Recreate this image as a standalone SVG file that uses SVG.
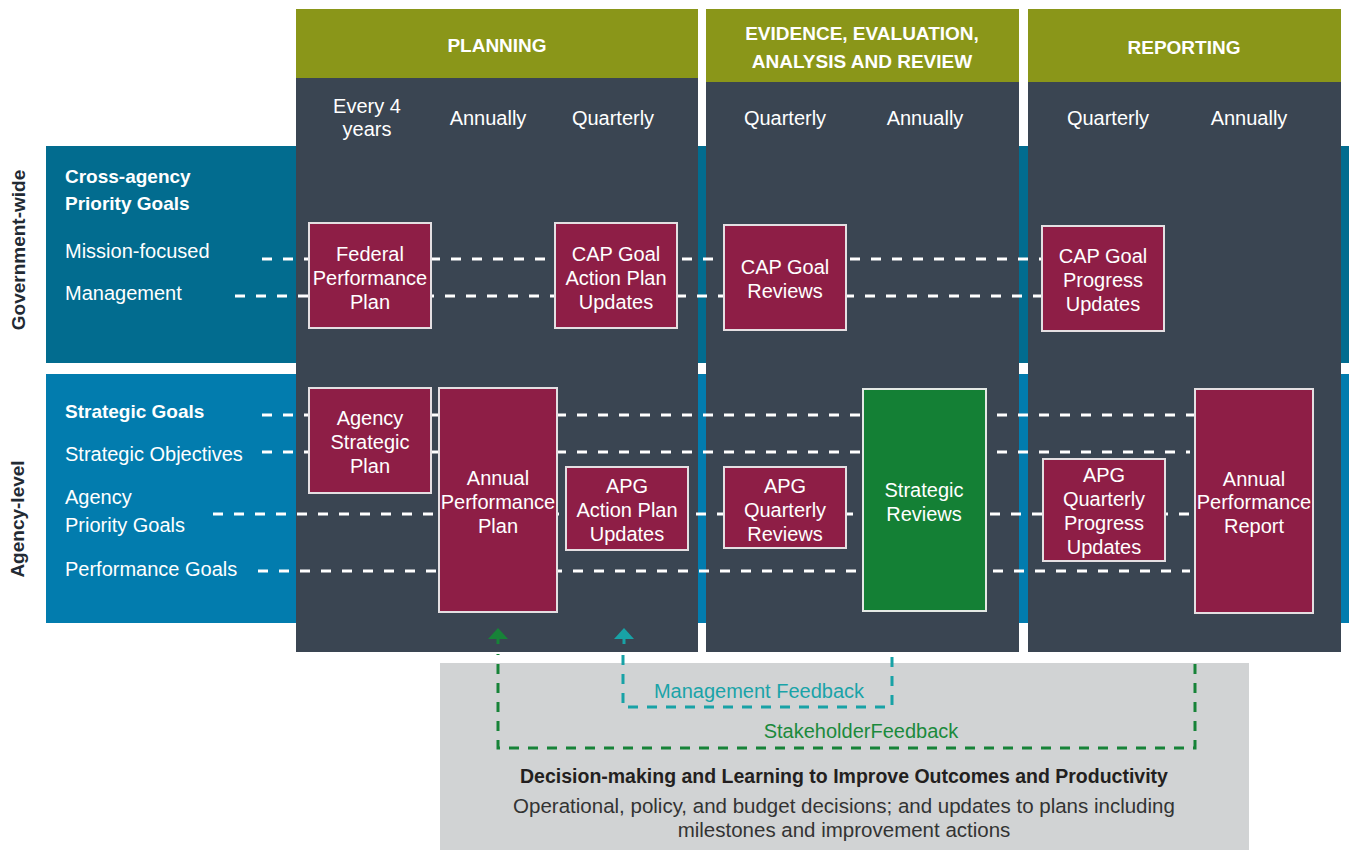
<svg xmlns="http://www.w3.org/2000/svg" width="1349" height="850" viewBox="0 0 1349 850">
  <style>
    text { font-family: "Liberation Sans", Arial, sans-serif; }
    .hdr { fill: #ffffff; font-size: 19px; font-weight: bold; text-anchor: middle; }
    .freq { fill: #ffffff; font-size: 20px; text-anchor: middle; }
    .lbl { fill: #ffffff; font-size: 20px; }
    .lblb { fill: #ffffff; font-size: 19px; font-weight: bold; }
    .side { fill: #222a33; font-size: 19px; font-weight: bold; text-anchor: middle; }
    .box { fill: #8e1e46; stroke: #e4dfe2; stroke-width: 2; }
    .gbox { fill: #148035; stroke: #e4e9e5; stroke-width: 2; }
    .bt { fill: #ffffff; font-size: 20px; text-anchor: middle; }
    .dash { stroke: #ffffff; stroke-width: 3; stroke-dasharray: 10 11; fill: none; }
    .fbm { stroke: #18a2a6; stroke-width: 3; stroke-dasharray: 10 9; fill: none; }
    .fbs { stroke: #178338; stroke-width: 3; stroke-dasharray: 10 9; fill: none; }
  </style>

  <rect width="1349" height="850" fill="#ffffff"/>

  <!-- horizontal bands -->
  <g id="band-government">
    <rect x="46" y="146" width="1303" height="217" fill="#026c8f"/>
    <text class="side" transform="translate(25,250) rotate(-90)">Government-wide</text>
    <text class="lblb" x="65" y="183">Cross-agency</text>
    <text class="lblb" x="65" y="210">Priority Goals</text>
    <text class="lbl" x="65" y="258">Mission-focused</text>
    <text class="lbl" x="65" y="300">Management</text>
  </g>
  <g id="band-agency">
    <rect x="46" y="374" width="1303" height="249" fill="#027cae"/>
    <text class="side" transform="translate(24,519) rotate(-90)">Agency-level</text>
    <text class="lblb" x="65" y="418">Strategic Goals</text>
    <text class="lbl" x="65" y="461">Strategic Objectives</text>
    <text class="lbl" x="65" y="504">Agency</text>
    <text class="lbl" x="65" y="532">Priority Goals</text>
    <text class="lbl" x="65" y="576">Performance Goals</text>
  </g>

  <!-- phase columns -->
  <g id="col-planning">
    <rect x="296" y="9" width="402" height="643" fill="#3a4552"/>
    <rect x="296" y="9" width="402" height="69" fill="#8a9619"/>
    <text class="hdr" x="497" y="52">PLANNING</text>
    <text class="freq" x="367" y="113">Every 4</text>
    <text class="freq" x="367" y="136">years</text>
    <text class="freq" x="488" y="125">Annually</text>
    <text class="freq" x="613" y="125">Quarterly</text>
  </g>
  <g id="col-evidence">
    <rect x="706" y="9" width="313" height="643" fill="#3a4552"/>
    <rect x="706" y="9" width="313" height="73" fill="#8a9619"/>
    <text class="hdr" x="862" y="40">EVIDENCE, EVALUATION,</text>
    <text class="hdr" x="862" y="68">ANALYSIS AND REVIEW</text>
    <text class="freq" x="785" y="125">Quarterly</text>
    <text class="freq" x="925" y="125">Annually</text>
  </g>
  <g id="col-reporting">
    <rect x="1028" y="9" width="313" height="643" fill="#3a4552"/>
    <rect x="1028" y="9" width="313" height="73" fill="#8a9619"/>
    <text class="hdr" x="1184" y="54">REPORTING</text>
    <text class="freq" x="1108" y="125">Quarterly</text>
    <text class="freq" x="1249" y="125">Annually</text>
  </g>

  <!-- decision-making panel -->
  <g id="decision-panel">
    <rect x="440" y="663" width="809" height="187" fill="#d1d3d4"/>
    <text x="844" y="783" font-size="19.5" font-weight="bold" fill="#231f20" text-anchor="middle">Decision-making and Learning to Improve Outcomes and Productivity</text>
    <text x="844" y="813" font-size="20.5" fill="#333333" text-anchor="middle">Operational, policy, and budget decisions; and updates to plans including</text>
    <text x="844" y="837" font-size="20.5" fill="#333333" text-anchor="middle">milestones and improvement actions</text>
  </g>

  <!-- connectors: goal lines and feedback loops -->
  <g id="connectors">
    <line class="dash" x1="262" y1="259" x2="1042" y2="259"/>
    <line class="dash" x1="235" y1="296" x2="1042" y2="296"/>
    <line class="dash" x1="262" y1="415" x2="1195" y2="415"/>
    <line class="dash" x1="262" y1="452" x2="1190" y2="452"/>
    <line class="dash" x1="213" y1="514" x2="1190" y2="514"/>
    <line class="dash" x1="258" y1="571" x2="1190" y2="571"/>

    <!-- stakeholder feedback loop -->
    <polyline class="fbs" points="1195,664 1195,748 498,748 498,654"/>
    <polygon points="498,628 508,639 488,639" fill="#178338"/>
    <line x1="498" y1="638" x2="498" y2="644" stroke="#178338" stroke-width="3"/>
    <text x="861" y="738" font-size="20" fill="#1b8a3c" text-anchor="middle">StakeholderFeedback</text>

    <!-- management feedback loop -->
    <polyline class="fbm" points="892,657 892,707 623,707 623,654"/>
    <polygon points="624,628 634,639 614,639" fill="#18a2a6"/>
    <line x1="624" y1="638" x2="624" y2="644" stroke="#18a2a6" stroke-width="3"/>
    <text x="759" y="698" font-size="20" fill="#1aa3a8" text-anchor="middle">Management Feedback</text>
  </g>

  <!-- government-wide nodes -->
  <g id="federal-performance-plan">
    <rect class="box" x="309" y="223" width="122" height="105"/>
    <text class="bt" x="370" y="261">Federal</text>
    <text class="bt" x="370" y="285">Performance</text>
    <text class="bt" x="370" y="309">Plan</text>
  </g>
  <g id="cap-goal-action-plan-updates">
    <rect class="box" x="555" y="223" width="122" height="105"/>
    <text class="bt" x="616" y="261">CAP Goal</text>
    <text class="bt" x="616" y="285">Action Plan</text>
    <text class="bt" x="616" y="309">Updates</text>
  </g>
  <g id="cap-goal-reviews">
    <rect class="box" x="724" y="225" width="122" height="105"/>
    <text class="bt" x="785" y="274">CAP Goal</text>
    <text class="bt" x="785" y="298">Reviews</text>
  </g>
  <g id="cap-goal-progress-updates">
    <rect class="box" x="1042" y="226" width="122" height="105"/>
    <text class="bt" x="1103" y="263">CAP Goal</text>
    <text class="bt" x="1103" y="287">Progress</text>
    <text class="bt" x="1103" y="311">Updates</text>
  </g>

  <!-- agency-level nodes -->
  <g id="agency-strategic-plan">
    <rect class="box" x="309" y="388" width="122" height="105"/>
    <text class="bt" x="370" y="425">Agency</text>
    <text class="bt" x="370" y="449">Strategic</text>
    <text class="bt" x="370" y="473">Plan</text>
  </g>
  <g id="annual-performance-plan">
    <rect class="box" x="439" y="388" width="118" height="224"/>
    <text class="bt" x="498" y="485">Annual</text>
    <text class="bt" x="498" y="509">Performance</text>
    <text class="bt" x="498" y="533">Plan</text>
  </g>
  <g id="apg-action-plan-updates">
    <rect class="box" x="566" y="467" width="122" height="83"/>
    <text class="bt" x="627" y="493">APG</text>
    <text class="bt" x="627" y="517">Action Plan</text>
    <text class="bt" x="627" y="541">Updates</text>
  </g>
  <g id="apg-quarterly-reviews">
    <rect class="box" x="724" y="467" width="122" height="81"/>
    <text class="bt" x="785" y="493">APG</text>
    <text class="bt" x="785" y="517">Quarterly</text>
    <text class="bt" x="785" y="541">Reviews</text>
  </g>
  <g id="strategic-reviews">
    <rect class="gbox" x="863" y="389" width="123" height="222"/>
    <text class="bt" x="924" y="497">Strategic</text>
    <text class="bt" x="924" y="521">Reviews</text>
  </g>
  <g id="apg-quarterly-progress-updates">
    <rect class="box" x="1043" y="459" width="122" height="102"/>
    <text class="bt" x="1104" y="482">APG</text>
    <text class="bt" x="1104" y="506">Quarterly</text>
    <text class="bt" x="1104" y="530">Progress</text>
    <text class="bt" x="1104" y="554">Updates</text>
  </g>
  <g id="annual-performance-report">
    <rect class="box" x="1195" y="389" width="118" height="224"/>
    <text class="bt" x="1254" y="486">Annual</text>
    <text class="bt" x="1254" y="509">Performance</text>
    <text class="bt" x="1254" y="533">Report</text>
  </g>
</svg>
